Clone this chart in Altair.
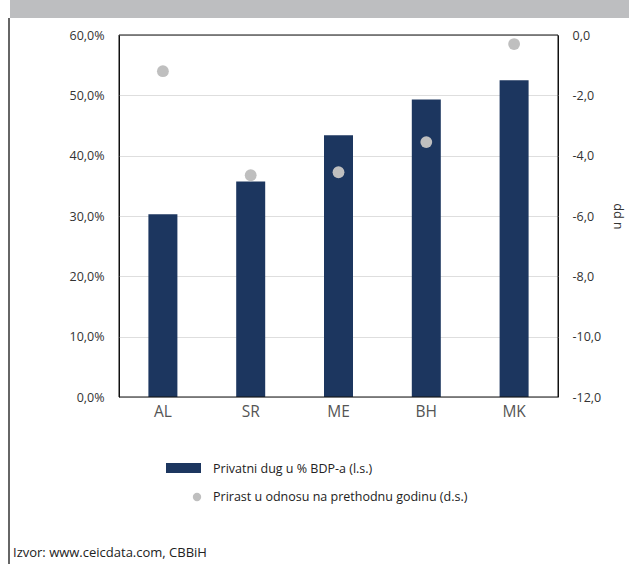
import altair as alt
import pandas as pd

countries = ["AL", "SR", "ME", "BH", "MK"]
debt_pct_gdp = [30.3, 35.7, 43.4, 49.3, 52.5]
change_pp = [-1.2, -4.65, -4.55, -3.55, -0.3]

legend_labels = ["Privatni dug u % BDP-a (l.s.)", "Prirast u odnosu na prethodnu godinu (d.s.)"]
source_text = ["Izvor: www.ceicdata.com, CBBiH"]

NAVY = "#1c365f"
GREY = "#bfbfbf"
FONT = "Open Sans"

df = pd.DataFrame({"country": countries, "debt": debt_pct_gdp, "change": change_pp})

x_enc = alt.X("country:N", sort=countries, title=None,
              axis=alt.Axis(labelFontSize=15.5, labelColor="#555555", labelPadding=7,
                            ticks=False, domain=False, labelAngle=0, labelFont=FONT),
              scale=alt.Scale(paddingInner=0.0, paddingOuter=0.0))

bars = alt.Chart(df).mark_bar(color=NAVY, size=29).encode(
    x=x_enc,
    y=alt.Y("debt:Q", title=None,
            scale=alt.Scale(domain=[0, 60], nice=False),
            axis=alt.Axis(values=[0, 10, 20, 30, 40, 50, 60],
                          labelExpr="replace(format(datum.value, '.1f'), '.', ',') + '%'",
                          labelFontSize=12.5, labelColor="#333333", labelPadding=15,
                          ticks=False, domain=False, grid=True, gridColor="#dedede",
                          labelFont=FONT)),
)

points = alt.Chart(df).mark_circle(color=GREY, size=140, opacity=1).encode(
    x=alt.X("country:N", sort=countries),
    y=alt.Y("change:Q", title="u pp",
            scale=alt.Scale(domain=[-12, 0], nice=False),
            axis=alt.Axis(orient="right", values=[-12, -10, -8, -6, -4, -2, 0],
                          labelExpr="(datum.value < 0 ? '-' : '') + replace(format(abs(datum.value), '.1f'), '.', ',')",
                          labelFontSize=12.5, labelColor="#333333", labelPadding=14,
                          ticks=False, domain=False, grid=False,
                          titleFontSize=12.5, titleFontWeight="normal", titleColor="#333333",
                          titleAngle=270, titleAlign="center", titleBaseline="middle",
                          titleX=58, titleY=181, titleFont=FONT, labelFont=FONT)),
)

leg_df = pd.DataFrame({"label": legend_labels})
one = pd.DataFrame({"a": [0]})

band = alt.Chart(one).mark_rect(color="#bdbec0").encode(
    x=alt.value(-109), x2=alt.value(510), y=alt.value(-35), y2=alt.value(-17))
left_line = alt.Chart(one).mark_rule(color="#333333", strokeWidth=1.5).encode(
    x=alt.value(-110), y=alt.value(-17), y2=alt.value(529))
frame = alt.Chart(one).mark_rect(fillOpacity=0, stroke="#111111", strokeWidth=1).encode(
    x=alt.value(0), x2=alt.value(439), y=alt.value(0), y2=alt.value(362))

leg_rect = alt.Chart(leg_df.iloc[[0]]).mark_rect(color=NAVY).encode(
    x=alt.value(47), x2=alt.value(82), y=alt.value(428), y2=alt.value(438))
leg_dot = alt.Chart(leg_df.iloc[[1]]).mark_circle(color=GREY, size=70, opacity=1).encode(
    x=alt.value(78), y=alt.value(462))
leg_text1 = alt.Chart(leg_df.iloc[[0]]).mark_text(align="left", baseline="middle", fontSize=12.5,
                                                  font=FONT, color="#222222").encode(
    x=alt.value(94), y=alt.value(434), text="label:N")
leg_text2 = alt.Chart(leg_df.iloc[[1]]).mark_text(align="left", baseline="middle", fontSize=12.5,
                                                  font=FONT, color="#222222").encode(
    x=alt.value(94), y=alt.value(462), text="label:N")
src = alt.Chart(pd.DataFrame({"t": source_text})).mark_text(align="left", baseline="middle",
                                                            fontSize=13, font=FONT, color="#222222").encode(
    x=alt.value(-106), y=alt.value(518), text="t:N")

chart = alt.layer(
    band, left_line, bars, points, frame, leg_rect, leg_dot, leg_text1, leg_text2, src
).resolve_scale(y="independent").properties(
    width=439, height=362,
    background="white",
    autosize=alt.AutoSizeParams(type="none"),
    padding={"left": 119, "top": 35, "right": 71, "bottom": 167},
).configure_view(stroke="#111111", strokeWidth=1)

chart.save("out.html", embed_options={"renderer": "svg", "actions": False})
